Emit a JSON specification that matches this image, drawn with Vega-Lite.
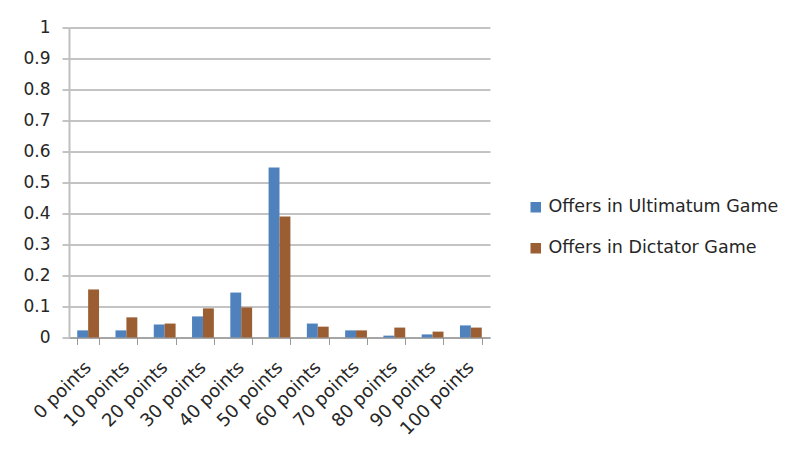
{
  "$schema": "https://vega.github.io/schema/vega-lite/v6.json",
  "autosize": "none",
  "width": 421,
  "height": 310,
  "padding": {"left": 69, "top": 27.5, "right": 303, "bottom": 114.5},
  "background": "white",
  "data": {
    "values": [
      {"category": "0 points", "series": "Offers in Ultimatum Game", "value": 0.023},
      {"category": "0 points", "series": "Offers in Dictator Game", "value": 0.155},
      {"category": "10 points", "series": "Offers in Ultimatum Game", "value": 0.023},
      {"category": "10 points", "series": "Offers in Dictator Game", "value": 0.065},
      {"category": "20 points", "series": "Offers in Ultimatum Game", "value": 0.042},
      {"category": "20 points", "series": "Offers in Dictator Game", "value": 0.045},
      {"category": "30 points", "series": "Offers in Ultimatum Game", "value": 0.068},
      {"category": "30 points", "series": "Offers in Dictator Game", "value": 0.094},
      {"category": "40 points", "series": "Offers in Ultimatum Game", "value": 0.145},
      {"category": "40 points", "series": "Offers in Dictator Game", "value": 0.097},
      {"category": "50 points", "series": "Offers in Ultimatum Game", "value": 0.548},
      {"category": "50 points", "series": "Offers in Dictator Game", "value": 0.39},
      {"category": "60 points", "series": "Offers in Ultimatum Game", "value": 0.045},
      {"category": "60 points", "series": "Offers in Dictator Game", "value": 0.035},
      {"category": "70 points", "series": "Offers in Ultimatum Game", "value": 0.023},
      {"category": "70 points", "series": "Offers in Dictator Game", "value": 0.023},
      {"category": "80 points", "series": "Offers in Ultimatum Game", "value": 0.006},
      {"category": "80 points", "series": "Offers in Dictator Game", "value": 0.032},
      {"category": "90 points", "series": "Offers in Ultimatum Game", "value": 0.01},
      {"category": "90 points", "series": "Offers in Dictator Game", "value": 0.019},
      {"category": "100 points", "series": "Offers in Ultimatum Game", "value": 0.039},
      {"category": "100 points", "series": "Offers in Dictator Game", "value": 0.032}
    ]
  },
  "mark": {"type": "bar"},
  "encoding": {
    "x": {
      "field": "category",
      "type": "nominal",
      "sort": null,
      "scale": {"paddingInner": 0.43, "paddingOuter": 0.215},
      "axis": {
        "title": null,
        "labelAngle": -45,
        "labelAlign": "right",
        "labelBaseline": "middle",
        "labelPadding": 20,
        "labelFont": "DejaVu Sans",
        "labelFontSize": 18,
        "labelColor": "#262626",
        "tickBand": "extent",
        "tickSize": 7,
        "tickColor": "#999999",
        "domainColor": "#888888",
        "domainWidth": 1,
        "grid": false
      }
    },
    "xOffset": {
      "field": "series",
      "type": "nominal",
      "sort": ["Offers in Ultimatum Game", "Offers in Dictator Game"]
    },
    "y": {
      "field": "value",
      "type": "quantitative",
      "scale": {"domain": [0, 1], "nice": false},
      "axis": {
        "title": null,
        "values": [0, 0.1, 0.2, 0.3, 0.4, 0.5, 0.6, 0.7, 0.8, 0.9, 1],
        "labelExpr": "datum.value",
        "labelFont": "DejaVu Sans",
        "labelFontSize": 17,
        "labelColor": "#262626",
        "labelPadding": 12,
        "tickSize": 7,
        "tickColor": "#888888",
        "gridColor": "#888888",
        "gridWidth": 1,
        "domainColor": "#BFBFBF",
        "domainWidth": 2
      }
    },
    "color": {
      "field": "series",
      "type": "nominal",
      "scale": {
        "domain": ["Offers in Ultimatum Game", "Offers in Dictator Game"],
        "range": ["#4F81BD", "#9B5E32"]
      },
      "legend": {
        "title": null,
        "orient": "none",
        "legendX": 458,
        "legendY": 171,
        "padding": 0,
        "symbolType": "square",
        "symbolSize": 110,
        "symbolStrokeWidth": 0,
        "labelFont": "DejaVu Sans",
        "labelFontSize": 17.5,
        "labelColor": "#262626",
        "labelOffset": 4,
        "rowPadding": 22,
        "labelLimit": 300
      }
    }
  },
  "config": {
    "view": {"stroke": null}
  }
}
